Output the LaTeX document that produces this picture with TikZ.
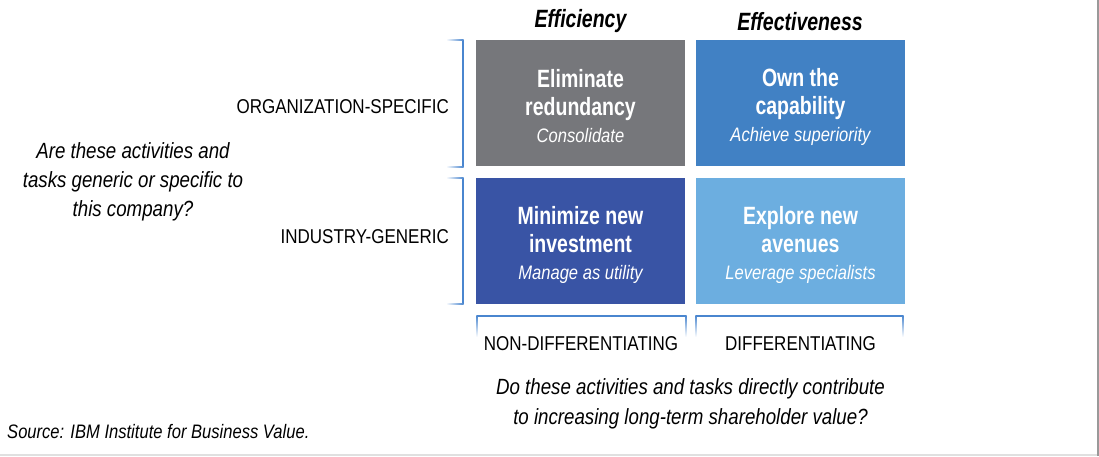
\documentclass[tikz,border=0pt]{standalone}
\usepackage{fontspec}
\setmainfont{Liberation Sans}[FakeStretch=0.85]
\newfontfamily\narrowbold{Liberation Sans}[FakeStretch=0.78]
\newcommand{\ttl}{\narrowbold\fontsize{25}{28}\selectfont\bfseries}
\newcommand{\sub}{\normalfont\fontsize{19.5}{28}\selectfont\itshape}
\begin{document}
\begin{tikzpicture}[x=1pt,y=-1pt,
  cell/.style={minimum width=209pt, minimum height=126pt, inner sep=0pt,
    outer sep=0pt, anchor=north west},
  celltext/.style={inner sep=0pt, align=center, text=white, font=\ttl},
  caps/.style={inner sep=0pt, font=\fontsize{20}{24}\selectfont},
  head/.style={inner sep=0pt, font=\narrowbold\fontsize{25}{28}\selectfont\bfseries\itshape},
  quest/.style={inner sep=0pt, align=center, font=\fontsize{22}{28.5}\selectfont\itshape},
  brace/.style={draw=bracketblue, line width=1.2pt}]
\definecolor{cgray}{HTML}{76777B}
\definecolor{cmid}{HTML}{4181C4}
\definecolor{cdark}{HTML}{3954A5}
\definecolor{clight}{HTML}{6CAEE0}
\definecolor{bracketblue}{HTML}{4A86CF}
\useasboundingbox (0,0) rectangle (1099,456);
% frame edges
\draw[draw=black!40, line width=2pt] (1097.5,0) -- (1097.5,456);
\draw[draw=black!12, line width=2pt] (0,454.5) -- (1097,454.5);

% column heads
\node[head] (eff) at (580.5,21.5) {Efficiency};
\node[head] (efv) at (800,21.5) {Effectiveness};

% quadrant cells
\node[cell, fill=cgray] (tl) at (476,40) {};
\node[cell, fill=cmid] (tr) at (696,40) {};
\node[cell, fill=cdark] (bl) at (476,178) {};
\node[cell, fill=clight] (br) at (696,178) {};
\node[celltext] (tlt) at ([yshift=-3.5pt]tl.center) {Eliminate\\ redundancy\\[-1pt] {\sub Consolidate}};
\node[celltext] (trt) at ([yshift=-3.5pt]tr.center) {Own the\\ capability\\[-1pt] {\sub Achieve superiority}};
\node[celltext] (blt) at ([yshift=-3.5pt]bl.center) {Minimize new\\ investment\\[-1pt] {\sub Manage as utility}};
\node[celltext] (brt) at ([yshift=-3.5pt]br.center) {Explore new\\ avenues\\[-1pt] {\sub Leverage specialists}};

% row brackets
\draw[brace] (463,40) -- (463,167);
\draw[brace] (463,178) -- (463,304);
\shade[left color=white, right color=bracketblue] (446,39.4) rectangle (463.6,40.6);
\shade[left color=white, right color=bracketblue] (446,166.4) rectangle (463.6,167.6);
\shade[left color=white, right color=bracketblue] (446,177.4) rectangle (463.6,178.6);
\shade[left color=white, right color=bracketblue] (446,303.4) rectangle (463.6,304.6);

% column brackets
\draw[brace] (477,316) -- (686,316);
\draw[brace] (696,316) -- (903,316);
\shade[top color=bracketblue, bottom color=white] (476.4,315.4) rectangle (477.6,337);
\shade[top color=bracketblue, bottom color=white] (685.4,315.4) rectangle (686.6,337);
\shade[top color=bracketblue, bottom color=white] (695.4,315.4) rectangle (696.6,337);
\shade[top color=bracketblue, bottom color=white] (902.4,315.4) rectangle (903.6,337);

% row and column labels
\node[caps, anchor=east] (org) at (449,107) {ORGANIZATION-SPECIFIC};
\node[caps, anchor=east] (ind) at (449,237) {INDUSTRY-GENERIC};
\node[caps] (nond) at (581,344) {NON-DIFFERENTIATING};
\node[caps] (diff) at (800.5,344) {DIFFERENTIATING};

% axis questions
\node[quest] (qrow) at (133,181.5) {Are these activities and\\[0.5pt] tasks generic or specific to\\[0.5pt] this company?};
\node[quest] (qcol) at (690.5,404) {Do these activities and tasks directly contribute\\[2pt] to increasing long-term shareholder value?};

% source note
\node[inner sep=0pt, anchor=west, font=\fontsize{19.5}{24}\selectfont\itshape] (src) at (7,432) {Source: IBM Institute for Business Value.};
\end{tikzpicture}
\end{document}
